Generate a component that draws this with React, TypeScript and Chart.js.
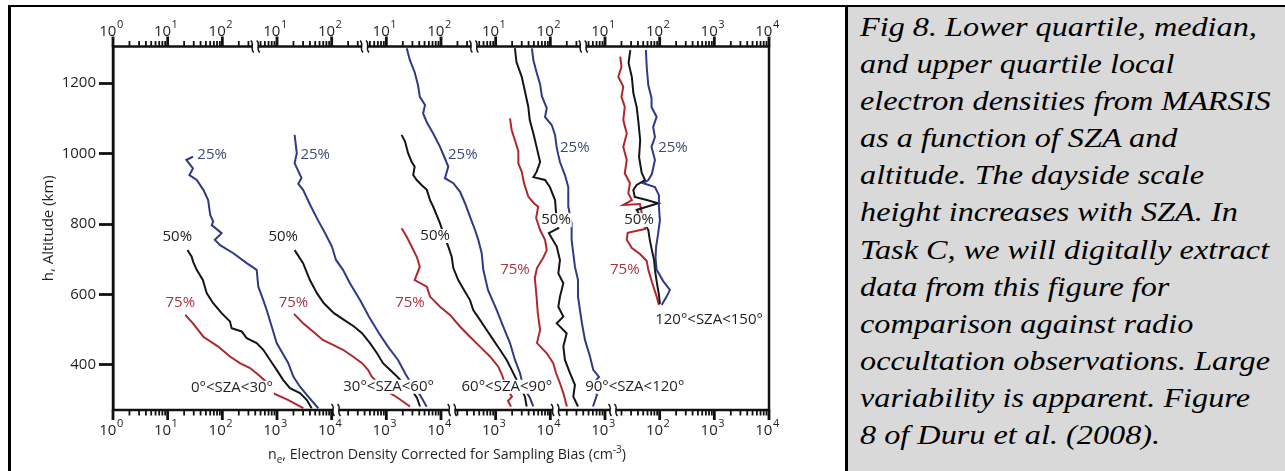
import React, { useEffect, useRef } from 'react';
import { Chart, registerables } from 'chart.js';

Chart.register(...registerables);

const FONT = '"Open Sans", "Noto Sans", sans-serif';

// [altitude km, electron density cm^-3] — one array per SZA bin and quartile
const sza0_30_q25 = [[991, 29], [982, 22], [958, 29], [939, 25], [925, 34], [897, 45], [868, 55], [826, 60], [807, 68], [797, 64], [774, 97], [755, 73], [740, 91], [717, 159], [689, 279], [670, 425], [622, 455], [584, 561], [556, 648], [509, 800], [462, 987], [405, 1610], [367, 1990], [338, 2630], [310, 3730], [277, 5690]];
const sza0_30_q50 = [[726, 23], [707, 27.5], [692, 29.4], [670, 34], [641, 44], [603, 52], [575, 68], [547, 97], [523, 138], [504, 148], [495, 226], [476, 279], [462, 425], [443, 561], [414, 745], [386, 987], [357, 1300], [334, 1730], [320, 2630], [301, 3490], [277, 4310]];
const sza0_30_q75 = [[542, 21], [518, 29], [480, 45], [452, 84], [424, 138], [405, 210], [391, 321], [372, 455], [355, 603], [321, 810], [301, 1585], [277, 3030]];

const sza30_60_q25 = [[1053, 21], [1001, 23], [973, 21], [931, 28], [914, 24.5], [897, 30], [849, 42], [811, 56], [774, 76], [736, 101], [698, 120], [670, 161], [632, 216], [584, 330], [537, 482], [490, 734], [452, 1070], [414, 1635], [377, 2190], [343, 2950], [315, 4125], [281, 5470]];
const sza30_60_q50 = [[726, 21], [689, 30], [641, 40], [603, 54], [575, 72], [547, 110], [528, 168], [509, 256], [490, 359], [462, 502], [433, 675], [405, 869], [386, 1166], [367, 1567], [343, 2193], [323, 3074], [306, 3640], [282, 4125]];
const sza30_60_q75 = [[545, 20.5], [518, 30], [495, 45.5], [471, 69], [457, 106], [443, 161], [424, 245], [405, 359], [386, 462], [366, 547], [329, 944], [306, 1635], [282, 2710]];

const sza60_90_q25 = [[1299, 23.6], [1265, 27], [1231, 33], [1194, 38], [1161, 41], [1138, 51], [1114, 47], [1089, 55], [1057, 72], [1019, 96], [986, 118], [963, 136], [930, 118], [916, 168], [892, 222], [859, 275], [821, 339], [783, 419], [755, 481], [717, 555], [670, 594], [613, 723], [556, 1042], [509, 1377], [462, 1828], [414, 2254], [377, 2786], [338, 3200], [306, 4246], [282, 4875]];
const sza60_90_q50 = [[1053, 19], [1034, 22], [1001, 25], [977, 29], [963, 33], [939, 31], [925, 36], [911, 44], [897, 55], [868, 63], [849, 72], [826, 83], [802, 96], [769, 113], [736, 136], [707, 157], [675, 168], [641, 207], [608, 275], [584, 339], [556, 389], [528, 516], [499, 685], [471, 904], [443, 1199], [414, 1589], [386, 1963], [357, 2423], [329, 3027], [309, 3439], [282, 3690]];
const sza60_90_q75 = [[788, 19], [764, 23.6], [736, 29], [707, 36], [679, 41], [641, 33], [622, 55], [594, 63], [565, 96], [542, 146], [509, 222], [480, 339], [452, 516], [424, 787], [395, 1117], [372, 1303], [338, 1545], [310, 1987], [298, 1680], [282, 1905]];

const sza90_120_q25 = [[1299, 46], [1265, 49], [1231, 56], [1197, 65], [1163, 70], [1129, 86], [1104, 80], [1081, 106], [1053, 122], [1016, 131], [976, 150], [939, 185], [905, 213], [849, 213], [802, 245], [755, 245], [717, 263], [679, 282], [641, 321], [594, 321], [556, 348], [518, 379], [471, 430], [424, 531], [386, 610], [366, 776], [343, 578], [315, 713], [282, 603]];
const sza90_120_q50 = [[1299, 22.5], [1260, 24], [1218, 30], [1180, 34], [1133, 39.5], [1095, 42], [1057, 49], [1019, 56], [976, 65], [948, 56], [933, 49], [925, 80], [905, 98], [868, 122], [834, 127], [788, 140], [774, 94], [736, 131], [698, 150], [660, 140], [632, 173], [594, 150], [565, 140], [537, 173], [518, 131], [490, 199], [452, 173], [414, 185], [377, 229], [343, 282], [310, 263], [282, 321]];
const sza90_120_q75 = [[1100, 18.3], [1067, 19.6], [1038, 22.5], [1007, 26], [972, 26], [948, 30], [916, 33], [878, 39.5], [859, 50], [849, 60], [817, 55], [783, 65], [755, 80], [726, 86], [704, 74], [675, 57], [647, 52], [594, 56], [547, 59], [499, 65], [462, 57], [433, 86], [405, 113], [377, 127], [348, 150], [320, 173], [282, 201]];

const sza120_150_q25 = [[1294, 56], [1245, 58], [1194, 62], [1158, 71], [1132, 71], [1104, 88], [1075, 76], [1047, 82], [1019, 71], [982, 82], [942, 72], [925, 62], [916, 50], [905, 82], [882, 97], [848, 97], [811, 101], [774, 94], [735, 86], [704, 84], [670, 88], [638, 116], [613, 154], [594, 134], [570, 109]];
const sza120_150_q50 = [[1294, 29], [1257, 27], [1217, 31], [1172, 33], [1132, 38], [1087, 41], [1038, 44], [990, 42], [945, 47], [925, 54], [911, 38], [897, 33], [877, 35], [868, 58], [859, 94], [849, 58], [840, 38], [783, 62], [755, 66], [726, 72], [698, 79], [670, 82], [633, 89], [599, 97], [573, 101]];
const sza120_150_q75 = [[1275, 19], [1246, 20], [1218, 17.5], [1190, 21.6], [1161, 20], [1133, 23], [1095, 21.6], [1057, 25], [1019, 21.6], [982, 25], [944, 23], [916, 28.6], [887, 26.7], [868, 31], [854, 21.6], [857, 43.6], [786, 54], [775, 26], [755, 25], [732, 31], [715, 43.6], [695, 58], [670, 62], [636, 72], [594, 88], [570, 97]];

const panels = [
  [sza0_30_q25, sza0_30_q50, sza0_30_q75],
  [sza30_60_q25, sza30_60_q50, sza30_60_q75],
  [sza60_90_q25, sza60_90_q50, sza60_90_q75],
  [sza90_120_q25, sza90_120_q50, sza90_120_q75],
  [sza120_150_q25, sza120_150_q50, sza120_150_q75],
];

const quartileLabels = ['25%', '50%', '75%'];
const szaLabels = ['0°<SZA<30°', '30°<SZA<60°', '60°<SZA<90°', '90°<SZA<120°', '120°<SZA<150°'];
// label anchors [density, altitude] per panel for 25%, 50%, 75%
const quartileAnchors = [
  [[65, 996], [15, 764], [17, 576]],
  [[50, 996], [13, 764], [20, 576]],
  [[250, 996], [78, 766], [27, 576]],
  [[280, 1016], [127, 811], [22.5, 670]],
  [[175, 1016], [42, 811], [23, 670]],
];
const szaAnchors = [[150, 335], [1100, 338], [1600, 338], [3500, 338], [800, 528]];

const yTicks = [400, 600, 800, 1000, 1200];
// tick ranges per panel on the top and bottom axes (densities, cm^-3)
const topRanges = [[1, 350], [4.5, 350], [4.5, 350], [4.5, 350], [4.5, 10000]];
const bottomRanges = [[1, 10000], [150, 10000], [150, 10000], [150, 1000], [15, 10000]];
const topBreaks = [400, 400, 400, 400];
const bottomBreaks = [12000, 16000, 12500, 1400];

const captionLines = [
  'Fig 8. Lower quartile, median,',
  'and upper quartile local',
  'electron densities from MARSIS',
  'as a function of SZA and',
  'altitude. The dayside scale',
  'height increases with SZA. In',
  'Task C, we will digitally extract',
  'data from this figure for',
  'comparison against radio',
  'occultation observations. Large',
  'variability is apparent. Figure',
  '8 of Duru et al. (2008).',
];

const lineColors = ['#2f3a86', '#151515', '#b0282f'];
const labelColors = ['#3d4878', '#222222', '#a83540'];
const TEXT = '#231f20';

const shiftOf = (k: number) => Math.pow(100, k);

function drawPow(ctx: CanvasRenderingContext2D, x: number, yBase: number, exp: number) {
  ctx.font = `15px ${FONT}`;
  const w1 = ctx.measureText('10').width;
  ctx.font = `11px ${FONT}`;
  const w2 = ctx.measureText(String(exp)).width;
  const x0 = x - (w1 + w2) / 2 - 2;
  ctx.textAlign = 'left';
  ctx.textBaseline = 'alphabetic';
  ctx.fillStyle = TEXT;
  ctx.font = `15px ${FONT}`;
  ctx.fillText('10', x0, yBase);
  ctx.font = `11px ${FONT}`;
  ctx.fillText(String(exp), x0 + w1 + 0.5, yBase - 8);
}

function drawBreak(ctx: CanvasRenderingContext2D, x: number, y: number) {
  ctx.save();
  ctx.fillStyle = '#fff';
  ctx.fillRect(x - 2.5, y - 2, 5, 4);
  ctx.strokeStyle = '#111';
  ctx.lineWidth = 1.4;
  for (const dx of [-3, 3]) {
    ctx.beginPath();
    ctx.moveTo(x + dx - 1.5, y - 6);
    ctx.bezierCurveTo(x + dx + 3, y - 2, x + dx - 3, y + 2, x + dx + 1.5, y + 6);
    ctx.stroke();
  }
  ctx.restore();
}

const labelPlugin = {
  id: 'panelLabels',
  afterDatasetsDraw(chart: any) {
    const { ctx, scales } = chart;
    const xs = scales.x;
    const ys = scales.y;
    ctx.save();
    ctx.font = `15px ${FONT}`;
    ctx.textAlign = 'center';
    ctx.textBaseline = 'middle';
    const put = (text: string, px: number, py: number, color: string) => {
      const w = ctx.measureText(text).width;
      ctx.fillStyle = '#fff';
      ctx.fillRect(px - w / 2 - 1, py - 7, w + 2, 14);
      ctx.fillStyle = color;
      ctx.fillText(text, px, py);
    };
    quartileAnchors.forEach((anchors, k) => {
      anchors.forEach(([n, alt], q) => {
        put(quartileLabels[q], xs.getPixelForValue(n * shiftOf(k)), ys.getPixelForValue(alt), labelColors[q]);
      });
    });
    szaAnchors.forEach(([n, alt], k) => {
      put(szaLabels[k], xs.getPixelForValue(n * shiftOf(k)), ys.getPixelForValue(alt), TEXT);
    });
    ctx.restore();
  },
};

const axesPlugin = {
  id: 'segmentedAxes',
  afterDraw(chart: any) {
    const { ctx, chartArea: a, scales } = chart;
    const xs = scales.x;
    ctx.save();
    ctx.strokeStyle = '#111';
    ctx.lineWidth = 2.5;
    ctx.strokeRect(a.left, a.top, a.right - a.left, a.bottom - a.top);

    const side = (ranges: number[][], y: number, dir: number, labelY: number) => {
      ranges.forEach(([lo, hi], k) => {
        const d0 = Math.floor(Math.log10(lo) + 1e-9);
        const d1 = Math.ceil(Math.log10(hi) - 1e-9);
        for (let d = d0; d <= d1; d++) {
          for (let m = 1; m <= 9; m++) {
            const v = m * Math.pow(10, d);
            if (v < lo * 0.999 || v > hi * 1.001) continue;
            const px = xs.getPixelForValue(v * shiftOf(k));
            const major = m === 1;
            ctx.strokeStyle = '#111';
            ctx.lineWidth = major ? 2.8 : 1.8;
            ctx.beginPath();
            ctx.moveTo(px, y);
            ctx.lineTo(px, y + dir * (major ? 10 : 5.5));
            ctx.stroke();
            if (major) drawPow(ctx, px, labelY, d);
          }
        }
      });
    };
    side(topRanges, a.top, -1, 35.5);
    side(bottomRanges, a.bottom, 1, 435);
    topBreaks.forEach((v, k) => drawBreak(ctx, xs.getPixelForValue(v * shiftOf(k)), a.top));
    bottomBreaks.forEach((v, k) => drawBreak(ctx, xs.getPixelForValue(v * shiftOf(k)), a.bottom));

    // x-axis title with subscript / superscript
    const parts: [string, number, number][] = [
      ['n', 14.2, 0],
      ['e', 10, 4],
      [', Electron Density Corrected for Sampling Bias (cm', 14.2, 0],
      ['-3', 10, -6],
      [')', 14.2, 0],
    ];
    let total = 0;
    parts.forEach(([t, s]) => {
      ctx.font = `${s}px ${FONT}`;
      total += ctx.measureText(t).width;
    });
    let cx = 447 - total / 2;
    ctx.fillStyle = TEXT;
    ctx.textAlign = 'left';
    ctx.textBaseline = 'alphabetic';
    parts.forEach(([t, s, dy]) => {
      ctx.font = `${s}px ${FONT}`;
      ctx.fillText(t, cx, 459 + dy);
      cx += ctx.measureText(t).width;
    });
    ctx.restore();
  },
};

export default function App() {
  const ref = useRef<HTMLCanvasElement | null>(null);

  useEffect(() => {
    if (!ref.current) return;
    const datasets: any[] = [];
    panels.forEach((curves, k) => {
      curves.forEach((curve, q) => {
        datasets.push({
          label: `${szaLabels[k]} ${quartileLabels[q]}`,
          data: curve.map(([alt, n]) => ({ x: n * shiftOf(k), y: alt })),
          borderColor: lineColors[q],
          borderWidth: 2,
          pointRadius: 0,
          tension: 0,
          fill: false,
        });
      });
    });
    const chart = new Chart(ref.current, {
      type: 'line',
      data: { datasets },
      options: {
        animation: false,
        responsive: false,
        devicePixelRatio: 1,
        layout: { padding: { left: 9, right: 78, top: 46.5, bottom: 61 } },
        plugins: { legend: { display: false }, tooltip: { enabled: false } },
        scales: {
          x: { type: 'logarithmic', min: 1, max: 1e12, display: false },
          y: {
            type: 'linear',
            min: 272,
            max: 1304,
            afterBuildTicks: (s: any) => {
              s.ticks = yTicks.map((v) => ({ value: v }));
            },
            afterFit: (s: any) => {
              s.width = 104;
            },
            ticks: {
              font: { family: FONT, size: 15 },
              color: TEXT,
              padding: 3,
              callback: (v: any) => String(v),
            },
            grid: {
              drawOnChartArea: false,
              drawTicks: true,
              tickLength: 14,
              tickWidth: 2.8,
              tickColor: '#111',
            },
            border: { display: true, width: 2.5, color: '#111' },
            title: {
              display: true,
              text: 'h, Altitude (km)',
              font: { family: FONT, size: 15 },
              color: TEXT,
              padding: { top: 31, bottom: 0 },
            },
          },
        },
      },
      plugins: [labelPlugin, axesPlugin],
    } as any);
    return () => chart.destroy();
  }, []);

  return (
    <div style={{ position: 'fixed', left: 0, top: 0, width: 1285, height: 471, background: '#fff', overflow: 'hidden' }}>
      <canvas ref={ref} width={847} height={471} style={{ position: 'absolute', left: 0, top: 0, width: 847, height: 471 }} />
      <div
        style={{
          position: 'absolute',
          left: 8,
          top: 5,
          width: 1285 - 8,
          height: 471 - 5,
          borderTop: '2px solid #000',
          borderLeft: '3px solid #000',
          boxSizing: 'border-box',
          pointerEvents: 'none',
        }}
      />
      <div
        style={{
          position: 'absolute',
          left: 845,
          top: 5,
          width: 1285 - 845,
          height: 471 - 5,
          background: '#d9d9d9',
          borderTop: '2px solid #000',
          borderLeft: '3px solid #000',
          boxSizing: 'border-box',
          overflow: 'hidden',
        }}
      >
        <div
          style={{
            position: 'absolute',
            left: 12,
            top: 2,
            fontFamily: '"Liberation Serif", "Times New Roman", serif',
            fontStyle: 'italic',
            fontSize: 26.67,
            lineHeight: '37.1px',
            color: '#000',
            whiteSpace: 'pre',
            transform: 'scaleX(1.21)',
            transformOrigin: 'left top',
          }}
        >
          {captionLines.map((l) => (
            <div key={l}>{l}</div>
          ))}
        </div>
      </div>
    </div>
  );
}
